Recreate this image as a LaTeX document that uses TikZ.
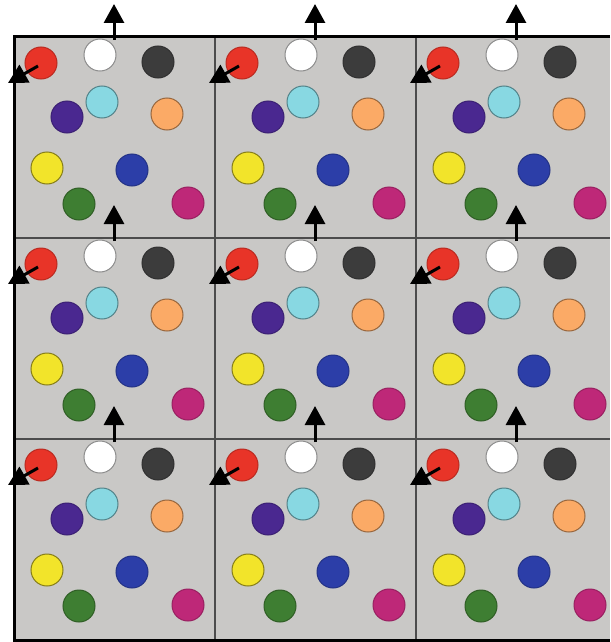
\documentclass[tikz,border=0pt]{standalone}
\usetikzlibrary{arrows.meta}
\definecolor{bgg}{RGB}{201,200,198}
\definecolor{cred}{RGB}{232,52,40}
\definecolor{cdark}{RGB}{60,60,60}
\definecolor{ccyan}{RGB}{136,216,226}
\definecolor{cpurple}{RGB}{74,40,144}
\definecolor{corange}{RGB}{251,170,102}
\definecolor{cyellow}{RGB}{242,228,42}
\definecolor{cblue}{RGB}{44,62,168}
\definecolor{cgreen}{RGB}{62,126,50}
\definecolor{cmag}{RGB}{190,40,120}
\tikzset{
  x=1pt, y=-1pt,
  ball/.style={circle, minimum size=32pt, inner sep=0pt, line width=1pt},
  gridline/.style={line width=1.2pt, draw=black!70},
  frame/.style={line width=3pt, draw=black},
  arr/.style={line width=3pt, -{Triangle[length=19pt,width=20pt]}}
}
\begin{document}
\begin{tikzpicture}
\useasboundingbox (0,0) rectangle (610,642);
\fill[bgg] (14,37) rectangle (610,640);
\foreach \cx in {215,416} \draw[gridline] (\cx,37) -- (\cx,640);
\foreach \cy in {238,439} \draw[gridline] (14,\cy) -- (610,\cy);
\foreach \i/\ox in {0/14,1/215,2/416}{
  \foreach \j/\oy in {0/37,1/238,2/439}{
    \begin{scope}[shift={(\ox,\oy)}]
      \node[ball, fill=cred, draw=cred!80!black] (red\i\j) at (27,26) {};
      \node[ball, fill=white, draw=black!45] (white\i\j) at (86,18) {};
      \node[ball, fill=cdark, draw=cdark!80!black] (dark\i\j) at (144,25) {};
      \node[ball, fill=ccyan, draw=ccyan!60!black] (cyan\i\j) at (88,65) {};
      \node[ball, fill=cpurple, draw=cpurple!80!black] (purple\i\j) at (53,80) {};
      \node[ball, fill=corange, draw=corange!60!black] (orange\i\j) at (153,77) {};
      \node[ball, fill=cyellow, draw=cyellow!55!black] (yellow\i\j) at (33,131) {};
      \node[ball, fill=cblue, draw=cblue!80!black] (blue\i\j) at (118,133) {};
      \node[ball, fill=cgreen, draw=cgreen!75!black] (green\i\j) at (65,167) {};
      \node[ball, fill=cmag, draw=cmag!80!black] (mag\i\j) at (174,166) {};
      \coordinate (ub\i\j) at (100,3);
      \coordinate (ut\i\j) at (100,-33);
      \coordinate (ls\i\j) at (24,29);
      \coordinate (lt\i\j) at (-6,46);
      \draw[arr] (ub\i\j) -- (ut\i\j);
      \draw[arr] (ls\i\j) -- (lt\i\j);
    \end{scope}
  }
}
\draw[frame] (610,37) -- (14,37) -- (14,640) -- (610,640);
\end{tikzpicture}
\end{document}
